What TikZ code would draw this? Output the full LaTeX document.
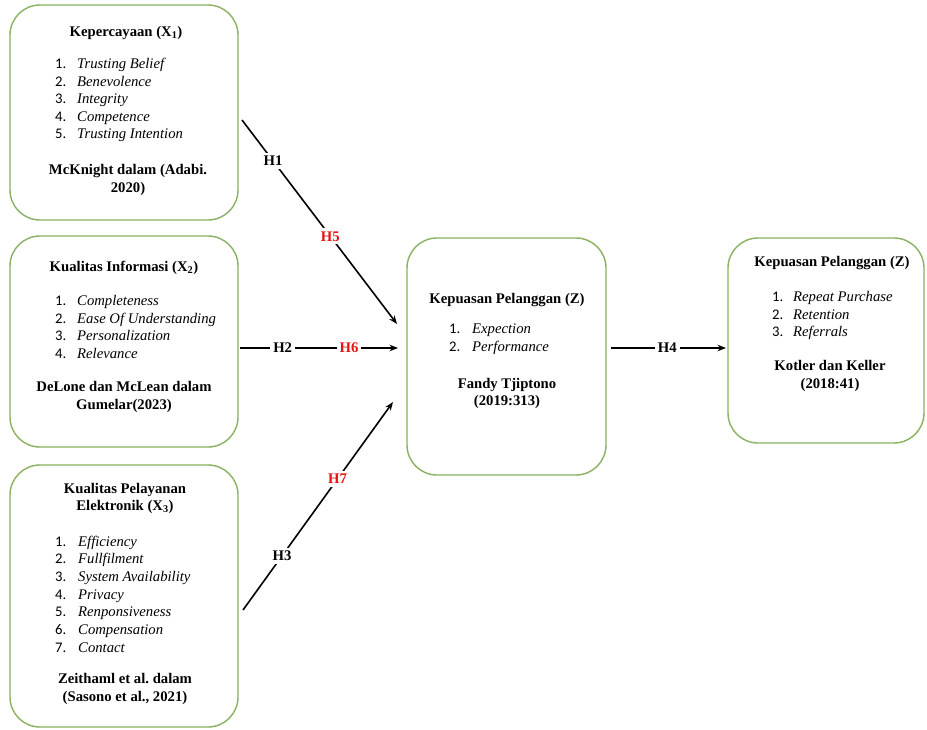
\documentclass[tikz,border=0pt]{standalone}
\usepackage{fontspec}
\setmainfont{Liberation Serif}
\newfontfamily\numfont{Carlito}
\usetikzlibrary{arrows.meta}
\definecolor{boxgreen}{RGB}{137,178,96}
\definecolor{hred}{RGB}{232,18,18}
\newcommand{\itm}[3][22pt]{\makebox[#1][l]{\numfont #2.}\textit{#3}}
\tikzset{
  varbox/.style={draw=boxgreen, line width=1.4pt, rounded corners=30pt, rectangle, inner sep=0pt},
  txt/.style={inner sep=0pt, font=\fontsize{14.7}{17.5}\selectfont},
  ttl/.style={txt, font=\fontsize{14.7}{17.5}\selectfont\bfseries, align=center},
  lst/.style={txt, align=left, anchor=west},
  conn/.style={draw, line width=1.6pt, -{Stealth[length=8.5pt,width=6.5pt]}},
  lbl/.style={fill=white, inner sep=3pt, font=\fontsize{14.7}{17}\selectfont\bfseries},
  lblred/.style={lbl, text=hred}
}
\begin{document}
\begin{tikzpicture}[x=1pt,y=-1pt]
\useasboundingbox (0,0) rectangle (927,729);
\fill[white] (0,0) rectangle (927,729);

% boxes
\node[varbox, minimum width=228pt, minimum height=215pt] (b1) at (124,112.5) {};
\node[varbox, minimum width=228pt, minimum height=211pt] (b2) at (124,341.5) {};
\node[varbox, minimum width=228pt, minimum height=262pt] (b3) at (124,596) {};
\node[varbox, minimum width=199pt, minimum height=237pt] (bz) at (506.5,356.5) {};
\node[varbox, minimum width=196pt, minimum height=205pt] (by) at (826,340.5) {};

% box 1
\node[ttl] (t1) at (126,33) {Kepercayaan (X\textsubscript{1})};
\node[lst] (l1) at (55,100) {\itm{1}{Trusting Belief}\\ \itm{2}{Benevolence}\\ \itm{3}{Integrity}\\ \itm{4}{Competence}\\ \itm{5}{Trusting Intention}};
\node[ttl] (r1) at (128,180) {McKnight dalam (Adabi.\\2020)};

% box 2
\node[ttl] (t2) at (124,268) {Kualitas Informasi (X\textsubscript{2})};
\node[lst] (l2) at (55,327) {\itm{1}{Completeness}\\ \itm{2}{Ease Of Understanding}\\ \itm{3}{Personalization}\\ \itm{4}{Relevance}};
\node[ttl] (r2) at (124,397) {DeLone dan McLean dalam\\Gumelar(2023)};

% box 3
\node[ttl] (t3) at (125,498.5) {Kualitas Pelayanan\\Elektronik (X\textsubscript{3})};
\node[lst, font=\fontsize{14.7}{17.7}\selectfont] (l3) at (55,594) {\itm[23pt]{1}{Efficiency}\\ \itm[23pt]{2}{Fullfilment}\\ \itm[23pt]{3}{System Availability}\\ \itm[23pt]{4}{Privacy}\\ \itm[23pt]{5}{Renponsiveness}\\ \itm[23pt]{6}{Compensation}\\ \itm[23pt]{7}{Contact}};
\node[ttl] (r3) at (125,689) {Zeithaml et al.\ dalam\\(Sasono et al., 2021)};

% centre box
\node[ttl] (tz) at (507,300) {Kepuasan Pelanggan (Z)};
\node[lst, font=\fontsize{14.7}{18}\selectfont] (lz) at (449,339) {\itm[23pt]{1}{Expection}\\ \itm[23pt]{2}{Performance}};
\node[ttl] (rz) at (507,393.5) {Fandy Tjiptono\\(2019:313)};

% right box
\node[ttl] (ty) at (832,263) {Kepuasan Pelanggan (Z)};
\node[lst] (ly) at (772,315.5) {\itm[21pt]{1}{Repeat Purchase}\\ \itm[21pt]{2}{Retention}\\ \itm[21pt]{3}{Referrals}};
\node[ttl] (ry) at (830,376) {Kotler dan Keller\\(2018:41)};

% connector end points
\coordinate (a1s) at (242,120);
\coordinate (a1e) at (397,324);
\coordinate (a2s) at (240,348);
\coordinate (a2e) at (398,348);
\coordinate (a3s) at (243,610);
\coordinate (a3e) at (393,402);
\coordinate (a4s) at (611,348);
\coordinate (a4e) at (726,348);

\draw[conn] (a1s) -- node[lbl, pos=0.2] (h1) {H1} node[lblred, pos=0.57] (h5) {H5} (a1e);
\draw[conn] (a2s) -- node[lbl, pos=0.27] (h2) {H2} node[lblred, pos=0.69] (h6) {H6} (a2e);
\draw[conn] (a3s) -- node[lbl, pos=0.26] (h3) {H3} node[lblred, pos=0.63] (h7) {H7} (a3e);
\draw[conn] (a4s) -- node[lbl, pos=0.49] (h4) {H4} (a4e);
\end{tikzpicture}
\end{document}
